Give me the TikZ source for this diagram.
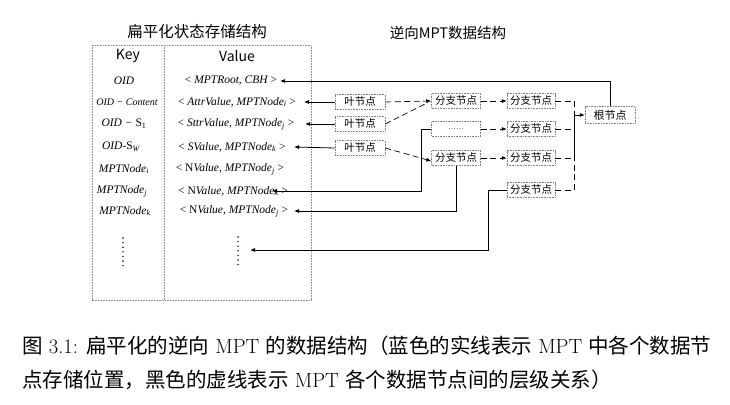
\documentclass[tikz,border=0pt]{standalone}
\usepackage{fontspec}
\usetikzlibrary{arrows.meta}
\newfontfamily\cjk{Noto Sans CJK SC}
\newfontfamily\tms{Liberation Serif}
\newcommand\lmr[1]{{\rmfamily #1}}
\newcommand\sbx[1]{\textsubscript{#1}}
\begin{document}
\begin{tikzpicture}[x=1pt,y=-1pt,
  tbl/.style={draw=black!45,line width=0.5pt,dash pattern=on 1pt off 0.6pt},
  nbox/.style={draw=black!50,line width=0.5pt,dash pattern=on 1pt off 0.6pt,
    minimum height=15pt,inner sep=0pt,font=\cjk\fontsize{10.5}{12}\selectfont},
  keyt/.style={font=\tms\fontsize{11.5}{13}\selectfont\itshape,inner sep=0pt},
  valt/.style={font=\tms\fontsize{11.5}{13}\selectfont,inner sep=0pt},
  sol/.style={line width=0.8pt,-{Latex[length=5pt,width=4pt]}},
  dsh/.style={line width=0.7pt,dash pattern=on 6pt off 3.5pt},
  dsha/.style={dsh,-{Latex[length=5pt,width=4pt]}},
  vdots/.style={line width=1.6pt,line cap=round,dash pattern=on 0pt off 4.6pt}
]
\path[use as bounding box,fill=white] (0,0) rectangle (730,404);

% titles
\node[font=\cjk\fontsize{15.5}{18}\selectfont] (t1) at (197,32) {扁平化状态存储结构};
\node[font=\cjk\fontsize{14.5}{17}\selectfont] (t2) at (448,33) {逆向MPT数据结构};

% table
\draw[tbl] (92,45) rectangle (311,300);
\draw[tbl] (164,45) -- (164,300);
\node[font=\cjk\fontsize{14}{16}\selectfont] (hk) at (128,56) {Key};
\node[font=\cjk\fontsize{14}{16}\selectfont] (hv) at (237,56) {Value};

% keys
\node[keyt] (k1) at (124,81) {OID};
\node[keyt,font=\tms\fontsize{10}{12}\selectfont\itshape] (k2) at (127,102) {OID − Content};
\node[keyt] (k3) at (124,124) {OID − {\upshape S}\sbx{\upshape 1}};
\node[keyt] (k4) at (121,147) {OID-{\upshape S}\sbx{W}};
\node[keyt] (k5) at (124,169) {MPTNode\sbx{i}};
\node[keyt] (k6) at (122,191) {MPTNode\sbx{j}};
\node[keyt] (k7) at (125,211) {MPTNode\sbx{k}};
\draw[vdots] (123,238) -- (123,268);

% values
\node[valt] (v1) at (231,81) {< \itshape MPTRoot, CBH\upshape\ >};
\node[valt] (v2) at (237,102) {< \itshape AttrValue, MPTNode\sbx{i}\upshape\ >};
\node[valt] (v3) at (236,124) {< \itshape SttrValue, MPTNode\sbx{j}\upshape\ >};
\node[valt] (v4) at (232,147) {< \itshape SValue, MPTNode\sbx{k}\upshape\ >};
\node[valt] (v5) at (230,169) {< N\itshape Value, MPTNode\sbx{j}\upshape\ >};
\node[valt] (v6) at (233,191) {< N\itshape Value, MPTNode\sbx{k}\upshape\ >};
\node[valt] (v7) at (234,211) {< N\itshape Value, MPTNode\sbx{j}\upshape\ >};
\draw[vdots] (238,237) -- (238,265);

% arrow end points at the value column
\coordinate (e1) at (280,81);
\coordinate (e2) at (304,102);
\coordinate (e3) at (305,124);
\coordinate (e4) at (294,147);
\coordinate (e6) at (272,191);
\coordinate (e7) at (294,211);
\coordinate (e8) at (250,250);

% leaf nodes
\node[nbox,minimum width=50pt] (L1) at (360,102) {叶节点};
\node[nbox,minimum width=50pt] (L2) at (360,124) {叶节点};
\node[nbox,minimum width=50pt] (L3) at (360,148) {叶节点};

% branch column 1
\node[nbox,minimum width=49pt] (B1) at (456,101) {分支节点};
\node[nbox,minimum width=49pt,font=\rmfamily\fontsize{9}{10}\selectfont] (D) at (456,129) {......};
\node[nbox,minimum width=49pt] (B3) at (456,158) {分支节点};

% branch column 2
\node[nbox,minimum width=48pt] (C1) at (531,101) {分支节点};
\node[nbox,minimum width=48pt] (C2) at (531,129) {分支节点};
\node[nbox,minimum width=48pt] (C3) at (531,158) {分支节点};
\node[nbox,minimum width=48pt] (C4) at (531,190) {分支节点};

% root
\node[nbox,minimum width=50pt,minimum height=17pt,font=\cjk\fontsize{11}{12}\selectfont] (R) at (610,115) {根节点};

% solid connectors (storage positions)
\draw[sol] (R.north) |- (e1);
\draw[sol] (L1.west) -- (e2);
\draw[sol] (L2.west) -- (e3);
\draw[sol] (L3.west) -- (e4);
\coordinate (t6) at (421,191);
\draw[sol] (D.west) -| (t6) -- (e6);
\draw[sol] (B3.south) |- (e7);
\coordinate (t8) at (488,250);
\draw[sol] (C4.west) -| (t8) -- (e8);

% dashed connectors (hierarchy)
\draw[dsha] (L1.east) -- (B1.west);
\coordinate (b1in) at (427,103);
\draw[dsh] (L2.east) -- (b1in);
\draw[dsha] (L3.east) -- ([yshift=-3pt]B3.west);
\draw[dsha] (B1.east) -- (C1.west);
\draw[dsha] (D.east) -- (C2.west);
\draw[dsha] (B3.east) -- (C3.west);
\coordinate (J) at (574,115);
\draw[dsh] (C1.east) -| (J);
\draw[dsh] (C2.east) -| (J);
\draw[dsh] (C3.east) -| (J);
\draw[dsh] (C4.east) -| (J);
\draw[dsha] (J) -- (R.west);

% caption
\node[anchor=west,inner sep=0pt,font=\fontsize{20.5}{24}\selectfont] (cap1) at (22,346)
  {{\cjk 图} \lmr{3.1:} {\cjk 扁平化的逆向} \lmr{MPT} {\cjk 的数据结构（蓝色的实线表示} \lmr{MPT} {\cjk 中各个数据节}};
\node[anchor=west,inner sep=0pt,font=\fontsize{20.5}{24}\selectfont] (cap2) at (22,380)
  {{\cjk 点存储位置，黑色的虚线表示} \lmr{MPT} {\cjk 各个数据节点间的层级关系）}};
\end{tikzpicture}
\end{document}
